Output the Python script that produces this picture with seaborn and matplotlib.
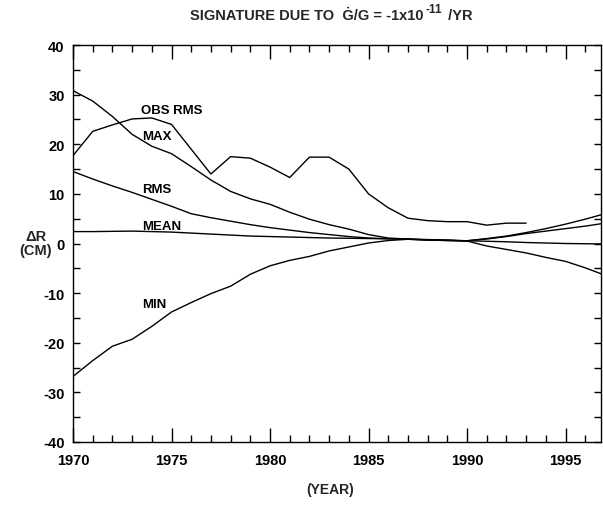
import numpy as np
import pandas as pd
import matplotlib
matplotlib.use("Agg")
import matplotlib.pyplot as plt
import seaborn as sns
from matplotlib.ticker import MultipleLocator
from matplotlib.transforms import offset_copy

years = list(range(1970, 1998))
obs_years = list(range(1970, 1994))

obs_rms = [17.7, 22.6, 23.9, 25.1, 25.3, 24.0, 19.0, 14.0, 17.5, 17.2, 15.4, 13.3,
           17.4, 17.4, 15.0, 10.0, 7.2, 5.1, 4.6, 4.4, 4.4, 3.7, 4.1, 4.1]
max_v = [30.8, 28.7, 25.6, 22.0, 19.6, 18.1, 15.5, 12.8, 10.5, 9.0, 7.9, 6.3,
         4.9, 3.8, 2.9, 1.8, 1.1, 0.9, 0.7, 0.6, 0.55, 1.0, 1.5, 2.2, 3.0, 3.9, 4.9, 6.0]
rms_v = [14.5, 13.0, 11.6, 10.3, 8.9, 7.5, 6.0, 5.2, 4.5, 3.8, 3.2, 2.7,
         2.2, 1.8, 1.4, 1.1, 0.95, 0.85, 0.7, 0.6, 0.55, 0.9, 1.4, 2.0, 2.5, 3.0, 3.5, 4.1]
mean_v = [2.4, 2.4, 2.45, 2.5, 2.4, 2.3, 2.1, 1.9, 1.7, 1.5, 1.4, 1.3,
          1.2, 1.1, 1.05, 1.0, 0.95, 0.9, 0.8, 0.7, 0.55, 0.45, 0.35, 0.2, 0.1, 0.0, -0.05, -0.1]
min_v = [-26.8, -23.6, -20.7, -19.3, -16.7, -13.8, -11.9, -10.1, -8.6, -6.2, -4.5, -3.4,
         -2.6, -1.5, -0.7, 0.1, 0.6, 0.85, 0.75, 0.65, 0.5, -0.5, -1.2, -1.9, -2.8, -3.6, -4.9, -6.4]

labels = ["OBS RMS", "MAX", "RMS", "MEAN", "MIN"]
label_pos = [(1973.45, 27.0), (1973.5, 21.7), (1973.5, 11.0), (1973.5, 3.6), (1973.5, -12.2)]

sns.set_style("ticks")
plt.rcParams['font.family'] = ['Liberation Sans', 'DejaVu Sans']
plt.rcParams['axes.unicode_minus'] = False

fig = plt.figure(figsize=(6.03, 5.06), dpi=100)
ax = fig.add_axes([73/603, 1 - 443/506, (601 - 73)/603, (443 - 46)/506])

for xs, ys in [(obs_years, obs_rms), (years, max_v), (years, rms_v), (years, mean_v), (years, min_v)]:
    sns.lineplot(x=xs, y=ys, ax=ax, color='black', linewidth=1.0)

for lab, (lx, ly) in zip(labels, label_pos):
    ax.text(lx, ly, lab, fontsize=9.5, fontweight='bold', color='black',
            ha='left', va='center')

ax.set_xlim(1970, 1996.8)
ax.set_ylim(-40, 40)
ax.xaxis.set_major_locator(MultipleLocator(5))
ax.xaxis.set_minor_locator(MultipleLocator(1))
ax.yaxis.set_major_locator(MultipleLocator(10))
ax.yaxis.set_minor_locator(MultipleLocator(5))
ax.tick_params(which='both', direction='in', top=True, right=True, width=1.0, colors='black',
               labelsize=10.5, pad=6)
ax.tick_params(axis='x', which='major', length=10, pad=8)
ax.tick_params(axis='x', which='minor', length=5)
ax.tick_params(axis='y', which='major', length=5)
ax.tick_params(axis='y', which='minor', length=5)
for lbl in ax.get_xticklabels() + ax.get_yticklabels():
    lbl.set_fontweight('bold')
for s in ax.spines.values():
    s.set_linewidth(1.0)
    s.set_color('black')

ax.set_xlabel("")
ax.set_ylabel("")
fig.text(36/603, 1 - 244/506, "ΔR\n(CM)", ha='center', va='center', fontsize=10.5,
         fontweight='bold', linespacing=0.95)
fig.text(330/603, 1 - 490/506, "(YEAR)", ha='center', va='center', fontsize=10,
         fontweight='bold')

# Title built from pieces so the superscript keeps a plain hyphen
renderer = fig.canvas.get_renderer()
t1 = fig.text(190/603, 1 - 20/506, "SIGNATURE DUE TO  Ġ/G = -1x10", ha='left',
              va='baseline', fontsize=10.5, fontweight='bold')
w1 = t1.get_window_extent(renderer).width
t2 = fig.text(0, 0, "-11", fontsize=8.5, fontweight='bold', ha='left', va='baseline',
              transform=offset_copy(t1.get_transform(), fig=fig, x=w1 * 72 / fig.dpi + 1.5,
                                    y=5, units='points'))
t2.set_position(t1.get_position())
w2 = t2.get_window_extent(renderer).width
t3 = fig.text(0, 0, " /YR", fontsize=10.5, fontweight='bold', ha='left', va='baseline',
              transform=offset_copy(t1.get_transform(), fig=fig,
                                    x=(w1 + w2) * 72 / fig.dpi + 2.5, y=0, units='points'))
t3.set_position(t1.get_position())

fig.savefig("out.png", dpi=100)
